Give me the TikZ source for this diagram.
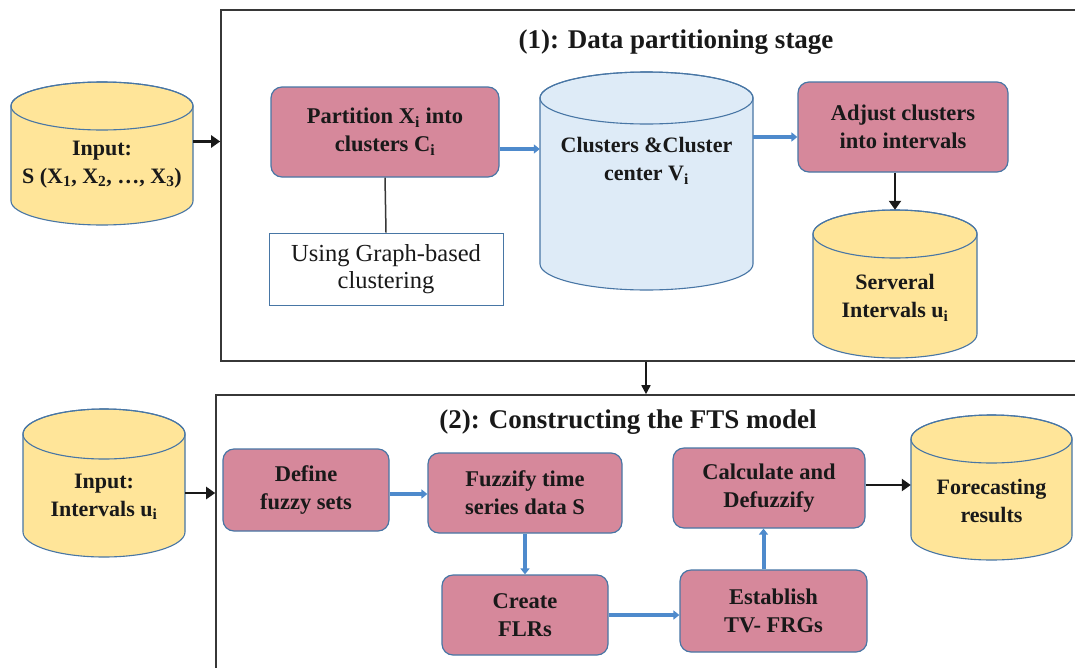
\documentclass[tikz,border=0pt]{standalone}
\usepackage{fontspec}
\setmainfont{Liberation Serif}
\usetikzlibrary{arrows.meta,calc}

\definecolor{boxpink}{RGB}{214,136,155}
\definecolor{drumyellow}{RGB}{255,229,153}
\definecolor{drumblue}{RGB}{222,235,247}
\definecolor{edgeblue}{RGB}{72,118,165}
\definecolor{flowblue}{RGB}{78,138,204}
\definecolor{framegray}{RGB}{55,55,55}
\definecolor{ink}{RGB}{25,25,25}

\tikzset{
  stagebox/.style={draw=framegray, line width=1.6pt, inner sep=0pt},
  proc/.style={draw=edgeblue, line width=1.2pt, fill=boxpink, rounded corners=11pt,
    align=center, text=ink, inner sep=0pt,
    font=\fontsize{22.5}{28}\selectfont\bfseries},
  notebox/.style={draw=edgeblue, line width=1pt, fill=white, align=center,
    text=ink, inner sep=0pt, font=\fontsize{24.5}{27}\selectfont},
  cyltext/.style={align=center, text=ink, inner sep=0pt,
    font=\fontsize{22}{28}\selectfont\bfseries},
  heading/.style={text=ink, inner sep=0pt, font=\fontsize{27}{30}\selectfont\bfseries},
  flow/.style={draw=flowblue, line width=4pt, -{Triangle[length=6pt,width=9pt]}},
  link/.style={draw=ink, line width=2.6pt, -{Triangle[length=9pt,width=12pt]}},
  thinlink/.style={draw=ink, line width=1.6pt, -{Triangle[length=9pt,width=9pt]}},
  tie/.style={draw=framegray, line width=1.5pt},
}

% database drum: name, x-left, y-top, x-right, y-bottom, cap radius, fill, label y, label
\newcommand\drum[9]{%
  \pgfmathsetmacro\drumrx{(#4-#2)/2}%
  \pgfmathsetmacro\drumcx{(#4+#2)/2}%
  \pgfmathsetmacro\drumcy{(#3+#5)/2}%
  \pgfmathsetmacro\drumw{#4-#2}%
  \pgfmathsetmacro\drumh{#5-#3}%
  \filldraw[fill=#7, draw=edgeblue, line width=1.1pt]
    (#2,#3+#6) -- (#2,#5-#6)
    arc[start angle=180, end angle=0, x radius=\drumrx, y radius=#6]
    -- (#4,#3+#6)
    arc[start angle=0, end angle=-180, x radius=\drumrx, y radius=#6] -- cycle;
  \draw[edgeblue, line width=1.1pt] (\drumcx,#3+#6) ellipse[x radius=\drumrx, y radius=#6];
  \node[minimum width=\drumw pt, minimum height=\drumh pt, inner sep=0pt] (#1) at (\drumcx,\drumcy) {};
  \node[cyltext] (#1-label) at (\drumcx,#8) {#9};
}

\begin{document}
\begin{tikzpicture}[x=1pt, y=-1pt]
\useasboundingbox (0,0) rectangle (1075,667);
\clip (0,0) rectangle (1075,667);
\fill[white] (0,0) rectangle (1075,667);

% ---------- stage 1 ----------
\node[stagebox, minimum width=869pt, minimum height=351pt] (stage1) at (655.5,185.5) {};
\node[heading] (title1) at (676,42) {(1): Data partitioning stage};

\drum{in1}{11}{82}{193}{225}{24}{drumyellow}{165}{Input:\\S (X\textsubscript{1}, X\textsubscript{2}, …, X\textsubscript{3})}

\node[proc, minimum width=228pt, minimum height=90pt] (part) at (385,132)
  {Partition X\textsubscript{i} into\\clusters C\textsubscript{i}};
\node[notebox, minimum width=234pt, minimum height=72pt] (graph) at (386,269)
  {Using Graph-based\\clustering};

\drum{clus}{540}{72}{753}{290}{26}{drumblue}{161}{Clusters \&Cluster\\center V\textsubscript{i}}

\node[proc, minimum width=210pt, minimum height=90pt] (adj) at (903,127)
  {Adjust clusters\\into intervals};

\drum{ser}{813}{210}{977}{358}{24}{drumyellow}{298}{Serveral\\Intervals u\textsubscript{i}}

\draw[link] ([yshift=12pt]in1.east) -- ([yshift=12pt]in1.east -| stage1.west);
\draw[tie] (part.south) -- (graph.north);
\draw[flow] ([yshift=-17pt]part.east) -- ([yshift=-17pt]part.east -| clus.west);
\draw[flow] ([yshift=-10pt]adj.west -| clus.east) -- ([yshift=-10pt]adj.west);
\draw[link] (ser.north |- adj.south) -- (ser.north);

% ---------- stage 2 ----------
\node[stagebox, minimum width=874pt, minimum height=305pt] (stage2) at (653,547.5) {};
\node[heading] (title2) at (628,422) {(2): Constructing the FTS model};

\coordinate (drop) at (646,0);
\draw[thinlink] (drop |- stage1.south) -- (drop |- stage2.north);

\drum{in2}{23}{409}{185}{557}{25}{drumyellow}{497}{Input:\\Intervals u\textsubscript{i}}

\node[proc, minimum width=166pt, minimum height=82pt] (def) at (306,490) {Define\\fuzzy sets};
\node[proc, minimum width=194pt, minimum height=80pt] (fuz) at (525,493) {Fuzzify time\\series data S};
\node[proc, minimum width=192pt, minimum height=80pt] (calc) at (769,488) {Calculate and\\Defuzzify};
\node[proc, minimum width=166pt, minimum height=80pt] (flr) at (525,615) {Create\\FLRs};
\node[proc, minimum width=187pt, minimum height=82pt] (frg) at (773.5,611) {Establish\\TV- FRGs};

\drum{fc}{911}{415}{1072}{560}{24}{drumyellow}{501}{Forecasting\\results}

\draw[link] ([yshift=-10pt]in2.east) -- ([yshift=-10pt]in2.east -| stage2.west);
\draw[flow] ([yshift=-4pt]def.east) -- ([yshift=-4pt]def.east -| fuz.west);
\draw[flow] (fuz.south) -- (fuz.south |- flr.north);
\draw[flow] (flr.east) -- (flr.east -| frg.west);
\draw[flow] ([xshift=-10pt]frg.north) -- ([xshift=-10pt]frg.north |- calc.south);
\draw[link] ([yshift=3pt]calc.east) -- ([yshift=3pt]calc.east -| fc.west);
\end{tikzpicture}
\end{document}
